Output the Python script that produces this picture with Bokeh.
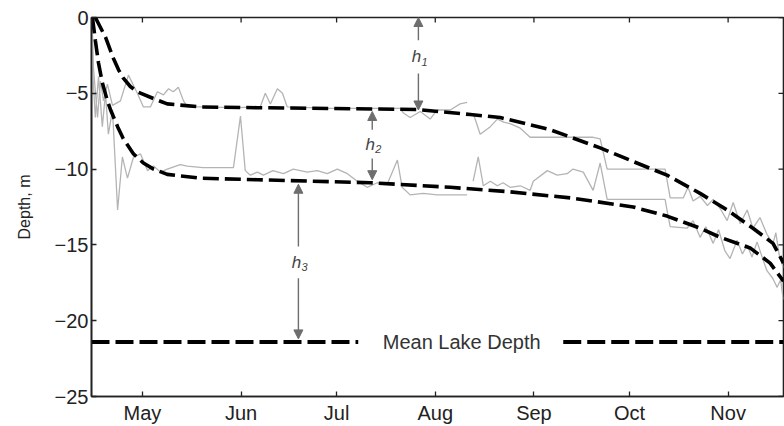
import numpy as np
from bokeh.plotting import figure
from bokeh.models import Range1d, FixedTicker, Arrow, NormalHead
from bokeh.embed import file_html
from bokeh.resources import INLINE
from bokeh.core.properties import value

nan = float("nan")

# ---- axes / ticks ----
month_days = [121, 152, 182, 213, 244, 274, 305]
month_labels = ["May", "Jun", "Jul", "Aug", "Sep", "Oct", "Nov"]
depth_ticks = [-25, -20, -15, -10, -5, 0]
depth_labels = ["\u221225", "\u221220", "\u221215", "\u221210", "\u22125", "0"]

# ---- fitted curves (day of year, depth m) ----
upper_fit_day = [106.2, 109.4, 111.9, 113.5, 115.0, 117.2, 119.4, 124.5, 128.8, 139.2,
                 157.1, 180.0, 207.3, 224.0, 233.4, 249.1, 264.8, 275.2, 285.8, 296.2,
                 304.7, 312.8, 319.1, 322.4]
upper_fit_depth = [0.0, -1.3, -2.7, -3.45, -4.0, -4.55, -4.9, -5.35, -5.7, -5.9,
                   -5.95, -6.0, -6.07, -6.4, -6.6, -7.4, -8.6, -9.5, -10.4, -11.6,
                   -12.7, -13.9, -14.9, -16.2]

lower_fit_day = [105.3, 106.2, 107.2, 108.4, 110.0, 111.0, 113.2, 115.0, 118.2, 121.3,
                 124.5, 128.8, 139.2, 157.1, 192.6, 217.7, 236.5, 255.4, 275.2, 285.8,
                 296.2, 302.5, 311.9, 318.2, 322.4]
lower_fit_depth = [0.0, -1.5, -3.0, -4.3, -5.5, -6.1, -7.2, -8.0, -9.0, -9.6,
                   -10.0, -10.35, -10.6, -10.7, -10.9, -11.2, -11.5, -11.9, -12.5, -13.1,
                   -13.9, -14.5, -15.2, -16.2, -17.4]

# ---- measured series ----
upper_obs_day = [105.3, 105.6, 106.9, 107.8, 108.8, 110.0, 111.6, 114.1, 116.6, 119.4,
                 121.3, 123.5, 125.7, 127.6, 129.2, 130.7, 132.3, 133.9, 135.1, 139.2,
                 150.0, 158.0, 159.6, 161.2, 163.4, 165.0, 166.5, 180.0, 195.0, 202.0,
                 203.0, 205.1, 208.3, 211.4, 213.6, 217.7, 220.8, 223.0, nan,
                 224.9, 227.1, 230.3, 232.5, 234.5, 236.5, 239.7, 242.8, 262.6, 264.8,
                 267.0, 285.2, 286.8, 290.9, 292.4, 294.0, 296.2, 298.5, 300.3, 302.5,
                 304.7, 306.6, 308.8, 311.0, 312.8, 315.0, 317.2, 319.1, 320.0, 321.0,
                 322.3]
upper_obs_depth = [-1.0, -3.3, -6.6, -4.2, -5.5, -4.4, -5.8, -5.5, -3.8, -5.0,
                   -5.9, -5.9, -4.9, -5.1, -4.7, -4.9, -4.6, -5.5, -5.9, -5.9,
                   -5.95, -5.9, -5.0, -5.7, -4.7, -5.0, -5.9, -6.0, -6.0, -6.0,
                   -6.3, -6.6, -6.2, -6.7, -6.1, -6.1, -5.7, -5.6, nan,
                   -6.3, -7.7, -7.2, -6.7, -6.9, -7.0, -7.3, -7.9, -7.9, -8.0,
                   -10.0, -10.0, -11.9, -11.9, -11.2, -12.1, -11.8, -12.4, -12.0, -12.6,
                   -13.4, -12.2, -13.6, -12.7, -13.9, -13.2, -14.3, -14.9, -14.2, -15.6,
                   -16.5]

lower_obs_day = [105.3, 106.2, 107.2, 108.4, 109.4, 110.3, 111.6, 113.2, 114.7, 116.3,
                 118.2, 120.4, 122.6, 124.5, 126.7, 128.8, 132.9, 135.1, 140.0, 149.6,
                 151.8, 153.3, 154.9, 157.1, 159.0, 162.0, 165.3, 168.4, 172.8, 175.9,
                 179.1, 182.2, 185.4, 188.5, 191.6, 194.8, 197.9, 201.1, 202.6, 205.1,
                 209.2, 213.6, 217.7, 223.0, nan,
                 224.9, 226.5, 228.1, 230.3, 232.5, 234.3, 236.5, 239.7, 242.8, 243.8,
                 248.2, 251.3, 254.4, 256.3, 259.5, 262.6, 264.8, 267.0, 285.2, 285.8,
                 286.8, 292.1, 294.0, 296.2, 298.0, 300.3, 302.0, 304.0, 305.6, 307.8,
                 309.5, 311.0, 312.5, 314.1, 316.0, 317.2, 319.0, 320.4, 321.5, 322.3]
lower_obs_depth = [-3.3, -6.6, -3.9, -7.2, -5.0, -7.7, -6.1, -12.7, -9.2, -10.6,
                   -9.2, -9.0, -10.1, -9.8, -10.2, -10.0, -9.7, -9.8, -9.9, -9.9,
                   -6.5, -10.1, -10.4, -10.2, -10.4, -10.1, -10.3, -10.0, -10.2, -10.1,
                   -10.3, -10.0, -10.3, -10.8, -11.2, -10.9, -11.0, -9.4, -11.2, -11.7,
                   -11.6, -11.7, -11.7, -11.7, nan,
                   -10.8, -9.2, -11.1, -10.8, -11.1, -10.9, -11.2, -11.1, -11.4, -10.8,
                   -10.1, -10.4, -10.3, -10.0, -10.2, -11.4, -9.6, -12.0, -12.0, -12.7,
                   -13.8, -13.9, -13.4, -14.5, -13.8, -14.9, -14.0, -15.4, -15.9, -14.7,
                   -15.6, -15.0, -15.8, -14.8, -16.0, -16.7, -17.2, -17.8, -17.3, -18.6]

mean_lake_depth = -21.4
mean_lake_label = "Mean Lake Depth"

FONT = "Liberation Sans"
X0, X1 = 105.0, 322.4
Y0, Y1 = -25, 0

p = figure(width=784, height=426, output_backend="svg", toolbar_location=None,
           x_range=Range1d(X0, X1), y_range=Range1d(Y0, Y1),
           min_border_left=91, min_border_right=1, min_border_top=17, min_border_bottom=10)
p.grid.visible = False
p.outline_line_color = "#222222"
p.outline_line_width = 1.6
p.background_fill_color = "white"

# measured
p.line(upper_obs_day, upper_obs_depth, line_color="#b4b4b4", line_width=1.3)
p.line(lower_obs_day, lower_obs_depth, line_color="#b4b4b4", line_width=1.3)

# fits
p.line(upper_fit_day, upper_fit_depth, line_color="black", line_width=3.6, line_dash="16 6")
p.line(lower_fit_day, lower_fit_depth, line_color="black", line_width=3.6, line_dash="16 6")

# mean lake depth line with a gap for the label
ml_x = [X0, 188.8, nan, 253.2, X1]
ml_y = [mean_lake_depth, mean_lake_depth, nan, mean_lake_depth, mean_lake_depth]
p.line(ml_x, ml_y, line_color="black", line_width=4, line_dash="18 6")
p.text(x=[221.3], y=[mean_lake_depth], text=[mean_lake_label], text_font=value(FONT),
       text_font_size="20px", text_color="#333333", text_align="center", text_baseline="middle")

# arrows
ac = "#6e6e6e"
arrows = [
    (207.7, -1.5, 0.0), (207.7, -3.7, -6.1),
    (193.2, -7.4, -6.2), (193.2, -9.3, -10.7),
    (170.0, -15.1, -11.0), (170.0, -17.2, -21.2),
]
for ax_, y0, y1 in arrows:
    p.add_layout(Arrow(end=NormalHead(size=9, fill_color=ac, line_color=ac),
                       x_start=ax_, y_start=y0, x_end=ax_, y_end=y1,
                       line_color=ac, line_width=1.4))

hx = [207.7, 193.2, 170.0]
hy = [-2.6, -8.35, -16.15]
hsub = ["1", "2", "3"]
p.text(x=hx, y=hy, text=["h", "h", "h"], text_font=value(FONT), text_font_style="italic",
       text_font_size="17px", text_color="#444444", text_align="center",
       text_baseline="middle", x_offset=-2)
p.text(x=hx, y=hy, text=hsub, text_font=value(FONT), text_font_style="italic",
       text_font_size="11px", text_color="#444444", text_align="left",
       text_baseline="middle", x_offset=3, y_offset=5)

# inward ticks on the top and right edges of the box
p.ray(x=month_days, y=[Y1] * len(month_days), length=5, length_units="screen",
      angle=-np.pi / 2, line_color="#222222", line_width=1.3)
p.ray(x=[X1] * len(depth_ticks), y=depth_ticks, length=5, length_units="screen",
      angle=np.pi, line_color="#222222", line_width=1.3)

# axes styling
def style(ax):
    ax.axis_line_color = "#222222"
    ax.axis_line_width = 1.6
    ax.major_tick_in = 5
    ax.major_tick_out = 0
    ax.minor_tick_line_color = None
    ax.major_tick_line_color = "#222222"
    ax.major_tick_line_width = 1.3
    ax.major_label_text_font = FONT
    ax.major_label_text_font_size = "20px"
    ax.major_label_text_color = "#222222"

xa = p.xaxis[0]
xa.ticker = FixedTicker(ticks=month_days)
xa.major_label_overrides = dict(zip(month_days, month_labels))
style(xa)
xa.major_label_standoff = 5

ya = p.yaxis[0]
ya.ticker = FixedTicker(ticks=depth_ticks)
ya.major_label_overrides = dict(zip(depth_ticks, depth_labels))
style(ya)
ya.major_label_standoff = 3
ya.axis_label = "Depth, m"
ya.axis_label_text_font = FONT
ya.axis_label_text_font_size = "16px"
ya.axis_label_text_font_style = "normal"
ya.axis_label_text_color = "#222222"
ya.axis_label_standoff = 19

open("out.html", "w").write(file_html(p, INLINE))
